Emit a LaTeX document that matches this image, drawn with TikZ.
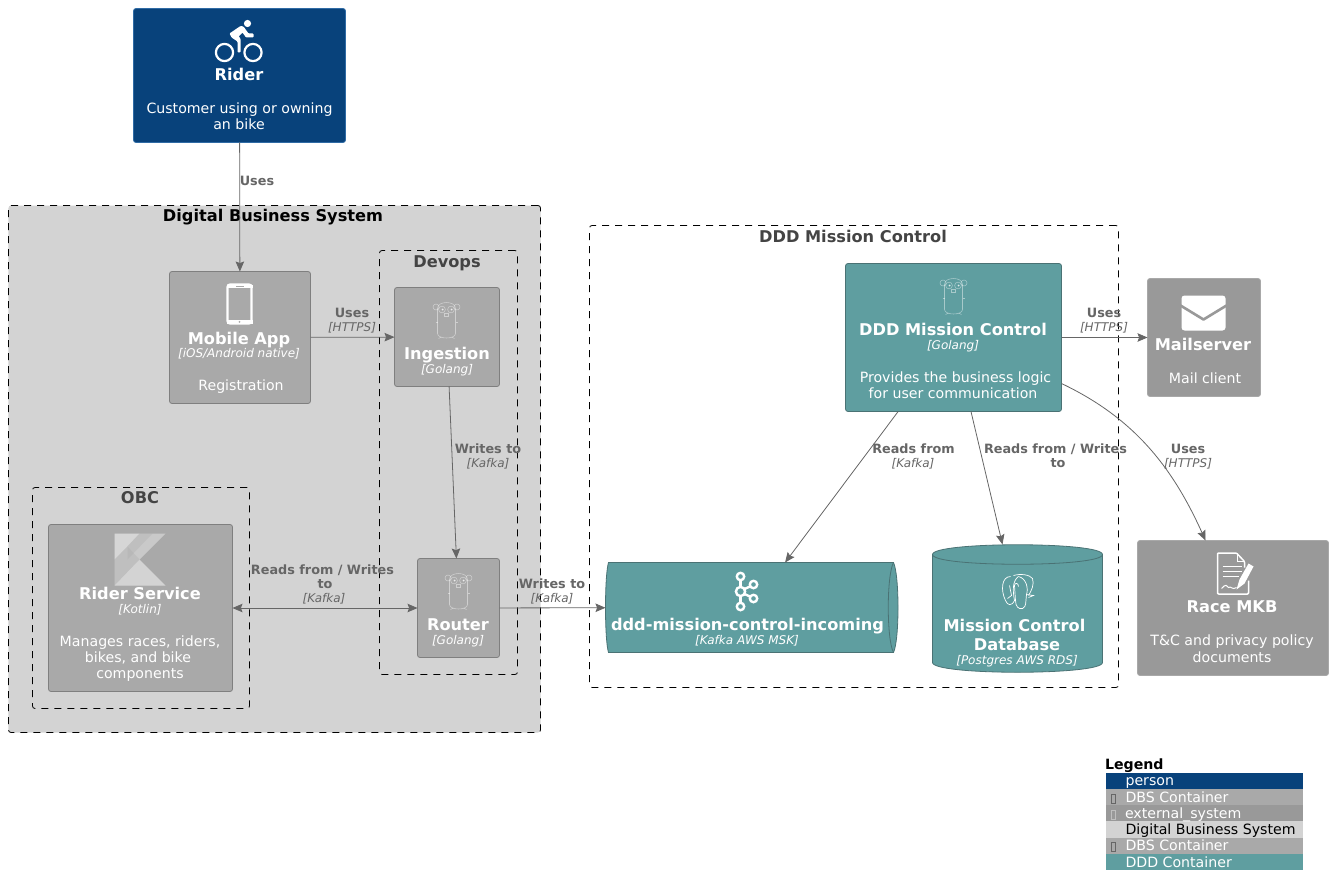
\documentclass[tikz,border=0pt]{standalone}
\usepackage{fontspec}
\setmainfont{DejaVu Sans}
\usetikzlibrary{arrows.meta}
\definecolor{personC}{HTML}{08427B}
\definecolor{personB}{HTML}{2F6BA5}
\definecolor{dbsC}{HTML}{A9A9A9}
\definecolor{dbsB}{HTML}{7F7F7F}
\definecolor{extC}{HTML}{999999}
\definecolor{extB}{HTML}{A8A8A8}
\definecolor{grpC}{HTML}{D3D3D3}
\definecolor{dddC}{HTML}{5F9EA0}
\definecolor{dddB}{HTML}{4A7274}
\definecolor{relC}{HTML}{666666}
\definecolor{grpT}{HTML}{444444}
\tikzset{
  x=1pt,y=-1pt,
  every node/.style={inner sep=0pt,outer sep=0pt},
  boxnode/.style={draw,rounded corners=2.5pt,line width=.8pt,anchor=north west},
  personbox/.style={boxnode,fill=personC,draw=personB},
  dbsbox/.style={boxnode,fill=dbsC,draw=dbsB},
  extbox/.style={boxnode,fill=extC,draw=extB},
  dddbox/.style={boxnode,fill=dddC,draw=dddB},
  shapeanchor/.style={anchor=north west},
  grp/.style={draw=black,line width=.8pt,dash pattern=on 7pt off 6pt,rounded corners=2.5pt,anchor=north west},
  rel/.style={draw=relC,line width=.8pt,-{Stealth[length=10pt,width=8.5pt,inset=1.6pt]}},
  relboth/.style={draw=relC,line width=.8pt,{Stealth[length=10pt,width=8.5pt,inset=1.6pt]}-{Stealth[length=10pt,width=8.5pt,inset=1.6pt]}},
  txt/.style={text height=7.5pt,text depth=2pt},
  nm/.style={txt,yshift=-3.5pt,font=\fontsize{16.2}{16}\selectfont\bfseries,text=white},
  tech/.style={txt,yshift=-2pt,font=\fontsize{12}{12}\selectfont\itshape,text=white},
  desc/.style={txt,yshift=-3pt,font=\fontsize{14.15}{14}\selectfont,text=white},
  ttl/.style={txt,yshift=-3.5pt,font=\fontsize{16.2}{16}\selectfont\bfseries,text=grpT},
  lb/.style={txt,yshift=-2pt,font=\fontsize{12.8}{13}\selectfont\bfseries,text=relC},
  lt/.style={txt,yshift=-2pt,font=\fontsize{12}{12}\selectfont\itshape,text=relC},
  lgd/.style={txt,yshift=-3pt,font=\fontsize{14.15}{14}\selectfont,anchor=west},
  lrow/.style={anchor=north west,minimum width=197pt,minimum height=17pt},
  pics/gopher/.style={code={
    \begin{scope}[draw=white,draw opacity=.45,line width=.55pt,fill=none]
      \draw (-9,-13) .. controls (-9,-21) and (9,-21) .. (9,-13) -- (9,12) .. controls (9,18) and (-9,18) .. (-9,12) -- cycle;
      \draw (-10.5,-14.5) circle (3); \draw (10.5,-14.5) circle (3);
      \draw (-4.5,-12) circle (3.4); \draw (4.5,-12) circle (3.4);
      \fill[white,fill opacity=.8] (-4,-12) circle (1); \fill[white,fill opacity=.8] (5,-12) circle (1);
      \draw (-2.2,-8) rectangle (2.2,-5);
      \draw (-11,1) -- (-9,1); \draw (11,1) -- (9,1);
      \draw (-8,17) -- (-5,15.5); \draw (8,17) -- (5,15.5);
    \end{scope}
  }},
}
\newcommand{\tx}[5]{\node[#1,xshift=-1pt,yshift=.5pt] (#2) at (#3,#4) {#5};}
\begin{document}
\begin{tikzpicture}
\useasboundingbox (-0.5,-0.5) rectangle (1331.5,895.5);
% groups
\node[grp,fill=grpC,minimum width=532pt,minimum height=527pt] (dbs) at (8,205) {};
\node[grp,minimum width=138pt,minimum height=424pt] (devops) at (379,250) {};
\node[grp,minimum width=217pt,minimum height=221pt] (obc) at (32,487) {};
\node[grp,minimum width=529pt,minimum height=462pt] (dddgrp) at (589,225) {};
\tx{ttl,text=black}{tDbs}{273.5}{215}{Digital Business System}
\tx{ttl}{tDevops}{447.5}{261}{Devops}
\tx{ttl}{tObc}{140.5}{497}{OBC}
\tx{ttl}{tDdd}{853.5}{236}{DDD Mission Control}
% boxes
\node[personbox,minimum width=212pt,minimum height=134pt] (rider) at (133,8) {};
\node[dbsbox,minimum width=141pt,minimum height=132pt] (mobile) at (169,271) {};
\node[dbsbox,minimum width=105pt,minimum height=99pt] (ingest) at (394,287) {};
\node[dbsbox,minimum width=82pt,minimum height=99pt] (router) at (417,558) {};
\node[dbsbox,minimum width=184pt,minimum height=167pt] (service) at (48,524) {};
\node[dddbox,minimum width=216pt,minimum height=148pt] (ddd) at (845,263) {};
\node[extbox,minimum width=113pt,minimum height=118pt] (mail) at (1147,278) {};
\node[extbox,minimum width=191pt,minimum height=135pt] (race) at (1137,540) {};
% queue
\node[shapeanchor,minimum width=292pt,minimum height=90pt] (queue) at (605,562) {};
\draw[fill=dddC,draw=dddB,line width=.8pt] (608,562) -- (893,562) .. controls (899,575) and (899,639) .. (893,652) -- (608,652) .. controls (604,639) and (604,575) .. (608,562) -- cycle;
\draw[draw=dddB,line width=.8pt] (893,562) .. controls (886,575) and (886,639) .. (893,652);
% database
\node[shapeanchor,minimum width=170pt,minimum height=127pt] (db) at (932,544) {};
\draw[fill=dddC,draw=dddB,line width=.8pt] (932,554) .. controls (932,541) and (1102,541) .. (1102,554) -- (1102,662) .. controls (1102,675) and (932,675) .. (932,662) -- cycle;
\draw[draw=dddB,line width=.8pt] (932,554) .. controls (932,567) and (1102,567) .. (1102,554);
% coordinates for the curved connector
\coordinate (curveA) at (1061,383);
\coordinate (curveB) at (1205,540);
% connectors
\draw[rel] (rider) -- (mobile);
\draw[rel] (mobile) -- (ingest);
\draw[rel] (ingest) -- (router);
\draw[relboth] (service) -- (router);
\draw[rel] (router) -- (queue);
\draw[rel] (ddd) -- (queue);
\draw[rel] (ddd) -- (db);
\draw[rel] (ddd) -- (mail);
\draw[rel] (curveA) .. controls (1130,416) and (1170,462) .. (curveB);
% connector labels
\tx{lb}{l1}{257.5}{181}{Uses}
\tx{lb}{l2}{352.5}{313}{Uses}
\tx{lt}{l2b}{352.5}{327}{[HTTPS]}
\tx{lb}{l3}{488.5}{449}{Writes to}
\tx{lt}{l3b}{488.5}{463}{[Kafka]}
\tx{lb}{l4}{323}{570}{Reads from / Writes}
\tx{lb}{l4b}{325.5}{584}{to}
\tx{lt}{l4c}{324.5}{598}{[Kafka]}
\tx{lb}{l5}{552.5}{584}{Writes to}
\tx{lt}{l5b}{552.5}{598}{[Kafka]}
\tx{lb}{l6}{914}{449}{Reads from}
\tx{lt}{l6b}{913.5}{463}{[Kafka]}
\tx{lb}{l7}{1056}{449}{Reads from / Writes}
\tx{lb}{l7b}{1058.5}{463}{to}
\tx{lb}{l8}{1104.5}{313}{Uses}
\tx{lt}{l8b}{1104.5}{327}{[HTTPS]}
\tx{lb}{l9}{1188.5}{449}{Uses}
\tx{lt}{l9b}{1188.5}{463}{[HTTPS]}
% box texts
\tx{nm}{riderN}{239.5}{74}{Rider}
\tx{desc}{riderD1}{240}{108}{Customer using or owning}
\tx{desc}{riderD2}{239.5}{124}{an bike}
\tx{nm}{mobileN}{239.5}{338}{Mobile App}
\tx{tech}{mobileT}{239.5}{353}{[iOS/Android native]}
\tx{desc}{mobileD}{241.5}{385}{Registration}
\tx{nm}{ingestN}{447.5}{353}{Ingestion}
\tx{tech}{ingestT}{447.5}{369}{[Golang]}
\tx{nm}{routerN}{458.5}{624}{Router}
\tx{tech}{routerT}{458.5}{640}{[Golang]}
\tx{nm}{serviceN}{140.5}{593}{Rider Service}
\tx{tech}{serviceT}{140.5}{609}{[Kotlin]}
\tx{desc}{serviceD1}{140.5}{641}{Manages races, riders,}
\tx{desc}{serviceD2}{138.5}{657}{bikes, and bike}
\tx{desc}{serviceD3}{140.5}{673}{components}
\tx{nm}{dddN}{953.5}{329}{DDD Mission Control}
\tx{tech}{dddT}{953.5}{345}{[Golang]}
\tx{desc}{dddD1}{956}{377}{Provides the business logic}
\tx{desc}{dddD2}{953.5}{393}{for user communication}
\tx{nm}{mailN}{1203.5}{344}{Mailserver}
\tx{desc}{mailD}{1205.5}{378}{Mail client}
\tx{nm}{raceN}{1232.5}{606}{Race MKB}
\tx{desc}{raceD1}{1232.5}{640}{T\&C and privacy policy}
\tx{desc}{raceD2}{1232.5}{657}{documents}
\tx{nm}{queueN}{748}{624}{ddd-mission-control-incoming}
\tx{tech}{queueT}{747.5}{640}{[Kafka AWS MSK]}
\tx{nm}{dbN1}{1015}{625}{Mission Control}
\tx{nm}{dbN2}{1017.5}{644}{Database}
\tx{tech}{dbT}{1017.5}{660}{[Postgres AWS RDS]}
% bike icon
\fill[white] (247,23) circle (3.6);
\draw[white,line width=2.2pt] (224,52) circle (8.6);
\draw[white,line width=2.2pt] (252.5,52) circle (8.6);
\fill[white,rounded corners=.8pt] (229,33) -- (240,25.5) -- (243,26) -- (248,33) -- (253,33) -- (253,37) -- (245.5,37) -- (242,32) -- (238,36) -- (240,38) -- (240,52) -- (237,52) -- (237,41) -- (231,37) -- cycle;
% phone icon
\draw[white,line width=2.2pt,rounded corners=2.5pt] (227,284) rectangle (251,323);
\fill[white] (226,284) rectangle (252,287.5);
\fill[white] (226,319) rectangle (252,323.5);
\fill[dbsC] (235,285) rectangle (243,285.8);
\fill[dbsC] (239,321.3) circle (1);
% gophers
\pic at (446,321) {gopher};
\pic at (458,592) {gopher};
\pic at (953,297) {gopher};
% kotlin icon
\fill[white,opacity=.38] (114,533) -- (165,533) -- (139,559) -- (165,585) -- (114,585) -- cycle;
\fill[white,opacity=.25] (114,533) -- (139,533) -- (114,559) -- cycle;
\fill[white,opacity=.2] (114,585) -- (139,559) -- (165,585) -- cycle;
\fill[dbsC,opacity=.3] (127,546) -- (139,533) -- (152,533) -- (127,559) -- cycle;
\fill[dbsC,opacity=.3] (114,559) -- (127,546) -- (139,559) -- (114,585) -- cycle;
% mail icon
\fill[white,rounded corners=3pt] (1181,295) rectangle (1225,330);
\draw[extC,line width=2.6pt,line cap=round,line join=round] (1180,305) -- (1203,319) -- (1226,305);
% document icon
\draw[white,line width=1.5pt,line join=round,rounded corners=1pt] (1244,567) -- (1244,561) -- (1236,552.5) -- (1217,552.5) -- (1217,593.5) -- (1248,593.5) -- (1248,580);
\draw[white,line width=1.2pt] (1237,553) -- (1237,561) -- (1244,561);
\draw[white,line width=1.2pt] (1222,566) -- (1241,566) (1222,571) -- (1241,571) (1222,576) -- (1238,576);
\draw[white,line width=1pt] (1221,588) .. controls (1225,583) and (1227,585) .. (1228,587) .. controls (1230,585) and (1232,590) .. (1236,587);
\fill[white] (1248,563) -- (1253,566) -- (1244,583) -- (1236,589) -- (1239,579) -- cycle;
% kafka icon
\begin{scope}[white,line width=2.4pt]
\draw (740,576) circle (3.7);
\draw (740,591) circle (4.6);
\draw (740,606) circle (3.7);
\draw (753,584) circle (3.7);
\draw (753,598) circle (3.7);
\draw (740,580) -- (740,586) (740,596) -- (740,602);
\draw (744,588.5) -- (749.5,586) (744,593.5) -- (749.5,596);
\end{scope}
% postgres icon
\begin{scope}[white,line width=.7pt]
\draw (1010,576) .. controls (1001,576) and (1000,590) .. (1005,600) .. controls (1007,605) and (1011,606) .. (1014,600) .. controls (1012,590) and (1012,580) .. (1018,576);
\draw (1013,575) .. controls (1020,573) and (1029,574) .. (1032,578) .. controls (1034,584) and (1031,590) .. (1028,595);
\draw (1018,576) .. controls (1026,578) and (1028,588) .. (1026,594) .. controls (1025,602) and (1026,606) .. (1022,608) .. controls (1018,609) and (1015,606) .. (1015,600) -- (1014,585) .. controls (1014,582) and (1018,582) .. (1018,586);
\draw (1026,594) -- (1033,595) -- (1028,597);
\draw (1009,585) -- (1011,595) -- (1007,598);
\end{scope}
% legend
\tx{anchor=west,txt,yshift=-3pt,font=\fontsize{14.15}{14}\selectfont\bfseries}{legendT}{1105.5}{764}{Legend}
\node[lrow,fill=personC] (r1) at (1105,772) {};
\node[lrow,fill=dbsC] (r2) at (1105,788) {};
\node[lrow,fill=extC] (r3) at (1105,804) {};
\node[lrow,fill=grpC] (r4) at (1105,820.5) {};
\node[lrow,fill=dbsC] (r5) at (1105,837) {};
\node[lrow,fill=dddC,minimum height=16pt] (r6) at (1105,853) {};
\tx{lgd,text=white}{t1}{1126}{780}{person}
\tx{lgd,text=white}{t2}{1126}{797}{DBS Container}
\tx{lgd,text=white}{t3}{1125.5}{813}{external\_system}
\tx{lgd,text=black}{t4}{1126}{829}{Digital Business System}
\tx{lgd,text=white}{t5}{1126}{845}{DBS Container}
\tx{lgd,text=white}{t6}{1126}{862}{DDD Container}
\draw[draw=black!60,line width=.6pt] (1111,793.5) rectangle (1114.5,803);
\draw[draw=black!60,line width=.6pt] (1111,841.5) rectangle (1114.5,851);
\draw[draw=black!25,line width=.5pt] (1111,809.5) rectangle (1114.5,819);
\end{tikzpicture}
\end{document}
